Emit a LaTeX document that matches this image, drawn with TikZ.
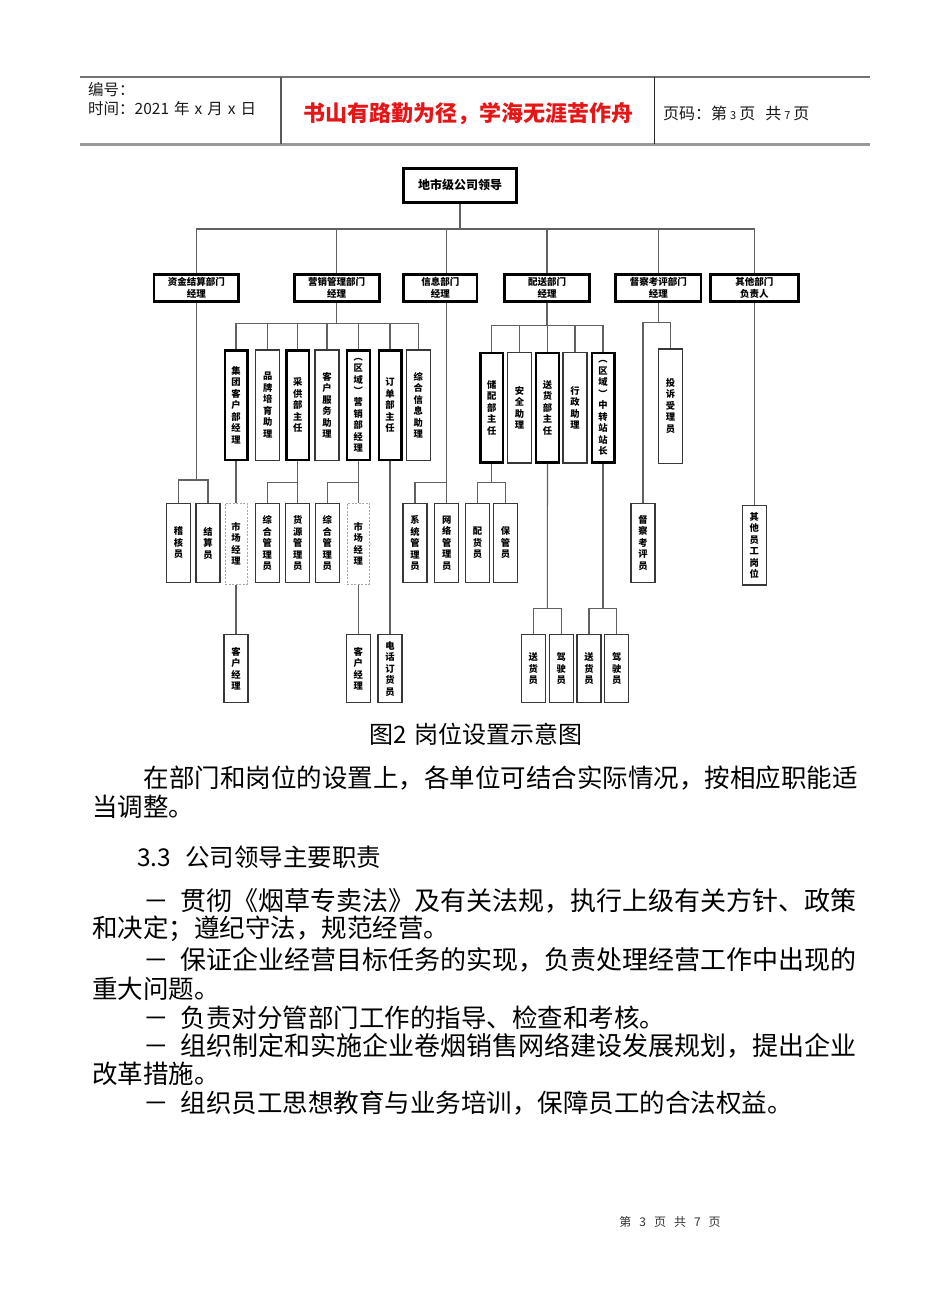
\documentclass[tikz,border=0pt]{standalone}
\usepackage{fontspec}
\setmainfont{Noto Sans CJK SC}
\definecolor{hdred}{RGB}{228,22,24}
\ExplSyntaxOn
\NewDocumentCommand{\vt}{m}
 {
  \seq_clear:N \l_tmpa_seq
  \tl_map_inline:nn {#1} { \seq_put_right:Nn \l_tmpa_seq {##1} }
  \seq_use:Nn \l_tmpa_seq { \\ }
 }
\ExplSyntaxOff
\newcommand\bodyfont{\fontsize{25.5}{29}\selectfont}
\newcommand\widefont{\fontsize{26}{29}\selectfont}
\begin{document}
\begin{tikzpicture}[x=1pt,y=-1pt,
  conn/.style={draw=black!62, line width=1.1pt},
  lead/.style={draw=black, line width=3.2pt, minimum width=113pt, minimum height=34pt, inner sep=0pt,
    font=\fontsize{12}{14}\selectfont\bfseries},
  dept/.style={draw=black, line width=2.8pt, minimum height=27.2pt, inner sep=0pt, align=center,
    font=\fontsize{9.5}{12}\selectfont\bfseries},
  vb/.style={draw=black!78, line width=1.2pt, minimum width=24pt, inner sep=0pt, align=center,
    font=\fontsize{9.3}{11.5}\selectfont\bfseries},
  vbk/.style={vb, draw=black, line width=2.3pt, minimum width=22.7pt},
  vbd/.style={vb, draw=black!35, line width=1pt, dash pattern=on 2pt off 1.5pt, minimum width=22pt},
  lvA/.style={minimum height=110.5pt},
  lvAk/.style={minimum height=109.4pt},
  lvB/.style={minimum height=79.4pt},
  lvC/.style={minimum height=68.3pt},
  tline/.style={anchor=west, inner sep=0pt, font=\bodyfont, text=black},
  hdtext/.style={anchor=west, inner sep=0pt, font=\fontsize{15.5}{17}\selectfont, text=black!90}
]
\fill[white] (0,0) rectangle (950,1290);
\useasboundingbox (0,0) rectangle (950,1290);

% ---------- header ----------
\draw[black!55, line width=1.3pt] (80,77) -- (870,77);
\draw[black!40, line width=2.5pt] (80,144.5) -- (870,144.5);
\draw[black!65, line width=1.3pt] (281,77) -- (281,143.5);
\draw[black!85, line width=1.3pt] (654.5,77) -- (654.5,143.5);
\node[hdtext] (bh) at (88,90) {编号：};
\node[hdtext] (sj) at (88,108.5) {时间：2021\hspace{5pt}年\hspace{5pt}x\hspace{5pt}月\hspace{5pt}x\hspace{5pt}日};
\node[inner sep=0pt, font=\fontsize{22}{26}\selectfont\bfseries, text=hdred] (motto) at (468,113.5) {书山有路勤为径，学海无涯苦作舟};
\node[hdtext, font=\fontsize{16}{18}\selectfont] (ym) at (663,113.5) {页码：第\hspace{3pt}{\fontsize{11}{13}\selectfont 3}\hspace{3pt}页\hspace{10pt}共\hspace{3pt}{\fontsize{11}{13}\selectfont 7}\hspace{3pt}页};

% ---------- chart: top ----------
\node[lead] (lead) at (460,185.3) {地市级公司领导};
\node[dept, minimum width=84.5pt] (d1) at (196.3,287.7) {资金结算部门\\经理};
\node[dept, minimum width=85.2pt] (d2) at (336.7,287.7) {营销管理部门\\经理};
\node[dept, minimum width=73.2pt] (d3) at (440.3,287.7) {信息部门\\经理};
\node[dept, minimum width=84.6pt] (d4) at (547,287.7) {配送部门\\经理};
\node[dept, minimum width=85.2pt] (d5) at (658.3,287.7) {督察考评部门\\经理};
\node[dept, minimum width=88pt] (d6) at (754.3,287.7) {其他部门\\负责人};

% ---------- level 2 ----------
\node[vbk, lvAk] (m1) at (236,405.2) {\vt{集团客户部经理}};
\node[vb,  lvA]  (m2) at (267.7,405.2) {\vt{品牌培育助理}};
\node[vbk, lvAk] (m3) at (297.7,405.2) {\vt{采供部主任}};
\node[vb,  lvA]  (m4) at (327,405.2) {\vt{客户服务助理}};
\node[vbk, lvAk] (m5) at (358.3,405.2) {\vt{︵区域︶营销部经理}};
\node[vbk, lvAk] (m6) at (390,405.2) {\vt{订单部主任}};
\node[vb,  lvA]  (m7) at (418.3,405.2) {\vt{综合信息助理}};

\node[vbk, lvAk] (p1) at (491.7,407.8) {\vt{储配部主任}};
\node[vb,  lvA]  (p2) at (519.5,407.8) {\vt{安全助理}};
\node[vbk, lvAk] (p3) at (547.5,407.8) {\vt{送货部主任}};
\node[vb,  lvA]  (p4) at (575,407.8) {\vt{行政助理}};
\node[vbk, lvAk] (p5) at (603,407.8) {\vt{︵区域︶中转站站长}};

\node[vb, minimum height=114.2pt] (ts) at (670.5,406) {\vt{投诉受理员}};

% ---------- level 3 ----------
\node[vb, lvB] (jh) at (178.5,543) {\vt{稽核员}};
\node[vb, lvB] (js) at (208,543) {\vt{结算员}};
\node[vbd, minimum height=81.3pt] (sc1) at (236,543.8) {\vt{市场经理}};
\node[vb, lvB] (zh1) at (267.2,543) {\vt{综合管理员}};
\node[vb, lvB] (hy) at (297.7,543) {\vt{货源管理员}};
\node[vb, lvB] (zh2) at (327.2,543) {\vt{综合管理员}};
\node[vbd, minimum height=81.3pt] (sc2) at (358.3,543.8) {\vt{市场经理}};
\node[vb, lvB] (xt) at (415,543) {\vt{系统管理员}};
\node[vb, lvB] (wl) at (446.7,543) {\vt{网络管理员}};
\node[vb, lvB] (ph) at (477.5,543) {\vt{配货员}};
\node[vb, lvB] (bg) at (505.5,543) {\vt{保管员}};
\node[vb, lvB] (dc) at (643,543) {\vt{督察考评员}};
\node[vb, lvB] (qt) at (754.3,545.3) {\vt{其他员工岗位}};

% ---------- level 4 ----------
\node[vb, lvC] (kh1) at (236,668.7) {\vt{客户经理}};
\node[vb, lvC] (kh2) at (358.3,668.7) {\vt{客户经理}};
\node[vb, lvC] (dh) at (390,668.7) {\vt{电话订货员}};
\node[vb, lvC] (sh1) at (533.2,668.7) {\vt{送货员}};
\node[vb, lvC] (jy1) at (561.2,668.7) {\vt{驾驶员}};
\node[vb, lvC] (sh2) at (589,668.7) {\vt{送货员}};
\node[vb, lvC] (jy2) at (616.7,668.7) {\vt{驾驶员}};

% ---------- connectors ----------
\coordinate (b0) at (460,229);
\draw[conn] (lead.south) -- (b0);
\draw[conn] (d1.north) -- (d1.north |- b0) -- (d6.north |- b0) -- (d6.north);
\foreach \n in {d2,d4,d5} \draw[conn] (\n.north) -- (\n.north |- b0);
\draw[conn] ([xshift=6.4pt]d3.north) -- ([xshift=6.4pt]d3.north |- b0);

% marketing
\coordinate (mb) at (336.7,323.3);
\draw[conn] (d2.south) -- (mb);
\draw[conn] (m1.north) -- (m1.north |- mb) -- (m7.north |- mb) -- (m7.north);
\foreach \n in {m2,m3,m4,m5,m6} \draw[conn] (\n.north) -- (\n.north |- mb);

% distribution
\coordinate (pb) at (547,325.7);
\draw[conn] (d4.south) -- (pb);
\draw[conn] (p1.north) -- (p1.north |- pb) -- (p5.north |- pb) -- (p5.north);
\foreach \n in {p2,p3,p4} \draw[conn] (\n.north) -- (\n.north |- pb);

% inspection
\coordinate (qb) at (658.3,322.7);
\draw[conn] (d5.south) -- (qb);
\draw[conn] (dc.north) -- (dc.north |- qb) -- (ts.north |- qb) -- (ts.north);

% others
\draw[conn] (d6.south) -- (qt.north);

% finance
\coordinate (fb) at (196,480);
\draw[conn] (d1.south) -- (d1.south |- fb);
\draw[conn] (jh.north) -- (jh.north |- fb) -- (js.north |- fb) -- (js.north);

% group customer
\draw[conn] (m1.south) -- (sc1.north);
\draw[conn] (sc1.south) -- (kh1.north);

% purchase
\coordinate (cb) at (297.7,482.3);
\draw[conn] (m3.south) -- (cb);
\draw[conn] (zh1.north) -- (zh1.north |- cb) -- (hy.north |- cb) -- (hy.north);

% regional marketing
\coordinate (rb) at (358.3,482.3);
\draw[conn] (m5.south) -- (rb);
\draw[conn] (zh2.north) -- (zh2.north |- rb) -- (sc2.north |- rb) -- (sc2.north);
\draw[conn] (sc2.south) -- (kh2.north);

% order
\draw[conn] (m6.south) -- (dh.north);

% information
\coordinate (ib) at (446.7,482.3);
\draw[conn] ([xshift=6.4pt]d3.south) -- (ib);
\draw[conn] (xt.north) -- (xt.north |- ib) -- (wl.north |- ib) -- (wl.north);

% storage
\coordinate (sb) at (491.7,482.3);
\draw[conn] (p1.south) -- (sb);
\draw[conn] (ph.north) -- (ph.north |- sb) -- (bg.north |- sb) -- (bg.north);

% delivery
\coordinate (db1) at (547.3,608.3);
\draw[conn] (p3.south) -- (db1);
\draw[conn] (sh1.north) -- (sh1.north |- db1) -- (jy1.north |- db1) -- (jy1.north);
\coordinate (db2) at (603,608.3);
\draw[conn] (p5.south) -- (db2);
\draw[conn] (sh2.north) -- (sh2.north |- db2) -- (jy2.north |- db2) -- (jy2.north);

% ---------- text ----------
\node[inner sep=0pt, font=\fontsize{24}{28}\selectfont] (cap) at (476,734) {图2\hspace{8pt}岗位设置示意图};
\node[tline] (pa1) at (143.5,778) {在部门和岗位的设置上，各单位可结合实际情况，按相应职能适};
\node[tline] (pa2) at (92,807) {当调整。};
\node[tline, font=\fontsize{24.5}{28}\selectfont] (sec) at (137,857) {3.3\hspace{14pt}公司领导主要职责};
\node[tline] (i1a) at (143,901) {－\hspace{12pt}{\widefont 贯彻《烟草专卖法》及有关法规，执行上级有关方针、政策}};
\node[tline] (i1b) at (92,929) {和决定；遵纪守法，规范经营。};
\node[tline] (i2a) at (143,960) {－\hspace{12pt}{\widefont 保证企业经营目标任务的实现，负责处理经营工作中出现的}};
\node[tline] (i2b) at (92,989) {重大问题。};
\node[tline] (i3) at (143,1017.5) {－\hspace{12pt}负责对分管部门工作的指导、检查和考核。};
\node[tline] (i4a) at (143,1046) {－\hspace{12pt}{\widefont 组织制定和实施企业卷烟销售网络建设发展规划，提出企业}};
\node[tline] (i4b) at (92,1074) {改革措施。};
\node[tline] (i5) at (143,1103) {－\hspace{12pt}组织员工思想教育与业务培训，保障员工的合法权益。};

\node[inner sep=0pt, font=\fontsize{12}{14}\selectfont, text=black!80] (foot) at (670,1222) {第\hspace{8pt}3\hspace{8pt}页\hspace{8pt}共\hspace{8pt}7\hspace{8pt}页};
\end{tikzpicture}
\end{document}
